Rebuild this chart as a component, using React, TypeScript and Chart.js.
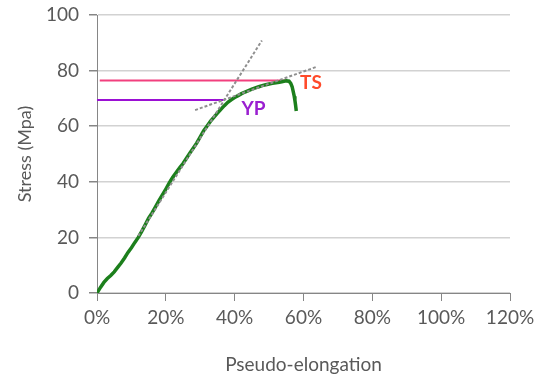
import React, { useEffect, useRef } from 'react';
import { Chart, registerables } from 'chart.js';

Chart.register(...registerables);

// Pseudo-elongation (%) and stress (MPa) of the measured curve
const strain = [
  0, 1, 2, 3, 4, 5, 6, 7, 8, 9, 10, 11, 12, 13, 14, 15, 16, 17, 18, 19, 20,
  21, 22, 23, 24, 25, 26, 27, 28, 29, 30, 31, 32, 33, 34, 35, 36, 37, 38, 39,
  40, 41, 42, 43, 44, 45, 46, 47, 48, 49, 50, 51, 52, 53, 54, 55, 55.8, 56.3,
  56.7, 57, 57.3, 57.5, 57.7, 57.9,
];
const stress = [
  0, 2, 3.8, 5.2, 6.3, 7.6, 9.2, 10.8, 12.6, 14.6, 16.3, 18.2, 20, 22.2, 24.5,
  26.9, 28.8, 31, 33.2, 35.3, 37.4, 39.6, 41.6, 43.3, 45, 46.6, 48.5, 50.4,
  52.2, 54, 56.2, 58.4, 60.1, 61.8, 63.3, 64.7, 66.1, 67.4, 68.6, 69.5, 70.3,
  71, 71.7, 72.3, 72.8, 73.3, 73.8, 74.2, 74.6, 74.9, 75.2, 75.4, 75.6, 75.8,
  76.1, 76.3, 76.2, 75.4, 74.2, 72.5, 70.8, 69.3, 67.5, 65.5,
];

// Tensile strength (TS) and yield point (YP) level lines
const tsX = [0.8, 55];
const tsY = [76.4, 76.4];
const ypX = [0, 36.7];
const ypY = [69.4, 69.4];

// Dotted construction lines
const tangentX = [12, 47.9];
const tangentY = [20.5, 90.8];
const plateauX = [28.5, 63.9];
const plateauY = [65.8, 81.4];

// Text labels (data coordinates)
const labelText = ['TS', 'YP'];
const labelX = [59, 42];
const labelY = [75.7, 66.4];
const labelColor = ['#ff4a2a', '#9a1fd0'];

const xTicks = [0, 20, 40, 60, 80, 100, 120];
const yTicks = [0, 20, 40, 60, 80, 100];

const FONT = 'Lato, "Open Sans", sans-serif';

const pts = (xs: number[], ys: number[]) => xs.map((x, i) => ({ x, y: ys[i] }));

const labelPlugin = {
  id: 'labels',
  afterDatasetsDraw(chart: any) {
    const { ctx, scales } = chart;
    ctx.save();
    ctx.font = `bold 19px ${FONT}`;
    ctx.textAlign = 'left';
    ctx.textBaseline = 'middle';
    labelText.forEach((t, i) => {
      ctx.fillStyle = labelColor[i];
      ctx.fillText(t, scales.x.getPixelForValue(labelX[i]), scales.y.getPixelForValue(labelY[i]));
    });
    ctx.restore();
  },
};

export default function App() {
  const ref = useRef<HTMLCanvasElement>(null);
  useEffect(() => {
    document.body.style.margin = '0';
    const axisGray = '#868686';
    const chart = new Chart(ref.current!, {
      type: 'line',
      data: {
        datasets: [
          {
            data: pts(tangentX, tangentY),
            borderColor: '#8f8f8f',
            borderWidth: 2,
            borderDash: [3, 2],
            pointRadius: 0,
          },
          {
            data: pts(plateauX, plateauY),
            borderColor: '#8f8f8f',
            borderWidth: 2,
            borderDash: [3, 2],
            pointRadius: 0,
          },
          {
            data: pts(strain, stress),
            borderColor: '#1c7f1c',
            borderWidth: 3.5,
            pointRadius: 0,
            tension: 0,
          },
          {
            data: pts(tsX, tsY),
            borderColor: '#f2407e',
            borderWidth: 2,
            pointRadius: 0,
          },
          {
            data: pts(ypX, ypY),
            borderColor: '#9b10d4',
            borderWidth: 2,
            pointRadius: 0,
          },
        ],
      },
      options: {
        responsive: false,
        animation: false,
        devicePixelRatio: 1,
        layout: { padding: { top: 15, right: 30, left: 0, bottom: 0 } },
        plugins: { legend: { display: false }, tooltip: { enabled: false } },
        scales: {
          x: {
            type: 'linear',
            min: 0,
            max: 120,
            afterBuildTicks: (s: any) => {
              s.ticks = xTicks.map((v) => ({ value: v }));
            },
            afterFit: (s: any) => {
              s.height = 83;
              s.paddingLeft = 0;
              s.paddingRight = 0;
            },
            ticks: {
              callback: (v: any) => v + '%',
              color: '#595959',
              font: { family: FONT, size: 19 },
              padding: 5,
              maxRotation: 0,
            },
            grid: { drawOnChartArea: false, tickLength: 8, tickColor: axisGray },
            border: { color: axisGray, width: 1 },
            title: {
              display: true,
              text: 'Pseudo-elongation',
              color: '#595959',
              font: { family: FONT, size: 19 },
              padding: { top: 0, bottom: 0 },
            },
          },
          y: {
            min: 0,
            max: 100,
            afterBuildTicks: (s: any) => {
              s.ticks = yTicks.map((v) => ({ value: v }));
            },
            afterFit: (s: any) => {
              s.width = 97;
              s.paddingTop = 0;
              s.paddingBottom = 0;
            },
            ticks: {
              color: '#595959',
              font: { family: FONT, size: 19 },
              padding: 10,
            },
            grid: { color: '#d2d2d2', lineWidth: 1.5, tickLength: 8, tickColor: axisGray },
            border: { color: axisGray, width: 1 },
            title: {
              display: true,
              text: 'Stress (Mpa)',
              color: '#595959',
              font: { family: FONT, size: 18 },
              padding: { top: 14, bottom: 0 },
            },
          },
        },
      },
      plugins: [labelPlugin],
    });
    return () => chart.destroy();
  }, []);
  return (
    <div style={{ width: 540, height: 376 }}>
      <canvas ref={ref} width={540} height={376} />
    </div>
  );
}
